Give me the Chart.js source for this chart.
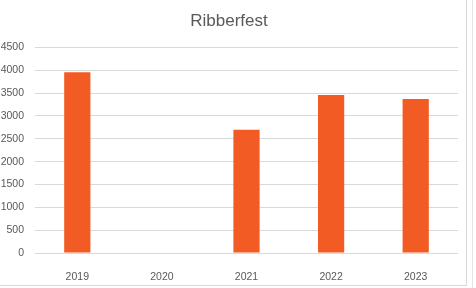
<!DOCTYPE html>
<html>
<head>
<meta charset="utf-8">
<script src="https://cdn.jsdelivr.net/npm/chart.js@4"></script>
<style>
  html, body { margin: 0; padding: 0; background: #fff; }
  #wrap {
    position: absolute; left: 0; top: 0;
    width: 466px; height: 285px;
    border-right: 1px solid #d9d9d9;
    border-bottom: 1px solid #d9d9d9;
  }
  #side {
    position: absolute; left: 472px; top: 0;
    width: 4px; height: 288px;
    border-left: 1px solid #e3e3e3;
  }
</style>
</head>
<body>
<div id="wrap"><canvas id="ribberChart" width="466" height="285"></canvas></div>
<div id="side"></div>
<script>
// chart data
const years = ["2019", "2020", "2021", "2022", "2023"];
const visitors = [3955, null, 2700, 3460, 3370];
const yTicks = [0, 500, 1000, 1500, 2000, 2500, 3000, 3500, 4000, 4500];

const textColor = "#595959";
const fontFamily = "'Liberation Sans', 'DejaVu Sans', sans-serif";

const ctx = document.getElementById("ribberChart").getContext("2d");

new Chart(ctx, {
  type: "bar",
  data: {
    labels: years,
    datasets: [
      {
        label: "Ribberfest",
        data: visitors,
        backgroundColor: "#f25c24",
        categoryPercentage: 1,
        barPercentage: 0.31,
      },
    ],
  },
  options: {
    responsive: false,
    animation: false,
    layout: { padding: { left: 0, right: 8, top: 0, bottom: 0 } },
    plugins: {
      legend: { display: false },
      tooltip: { enabled: false },
      title: {
        display: true,
        text: "Ribberfest",
        color: textColor,
        font: { family: fontFamily, size: 17, weight: "normal" },
        padding: { top: 11, bottom: 16 },
      },
    },
    scales: {
      x: {
        grid: { display: false },
        border: { display: false },
        ticks: {
          color: textColor,
          font: { family: fontFamily, size: 10.5 },
          padding: 10,
        },
        afterFit: (scale) => { scale.height = 32; },
      },
      y: {
        min: 0,
        max: 4500,
        afterBuildTicks: (scale) => {
          scale.ticks = yTicks.map((v) => ({ value: v }));
        },
        grid: { color: "#d9d9d9", drawTicks: false },
        border: { display: false },
        ticks: {
          color: textColor,
          font: { family: fontFamily, size: 10.5 },
          padding: 11,
          callback: (v) => String(v),
        },
        afterFit: (scale) => { scale.width = 35; },
      },
    },
  },
});
</script>
</body>
</html>
